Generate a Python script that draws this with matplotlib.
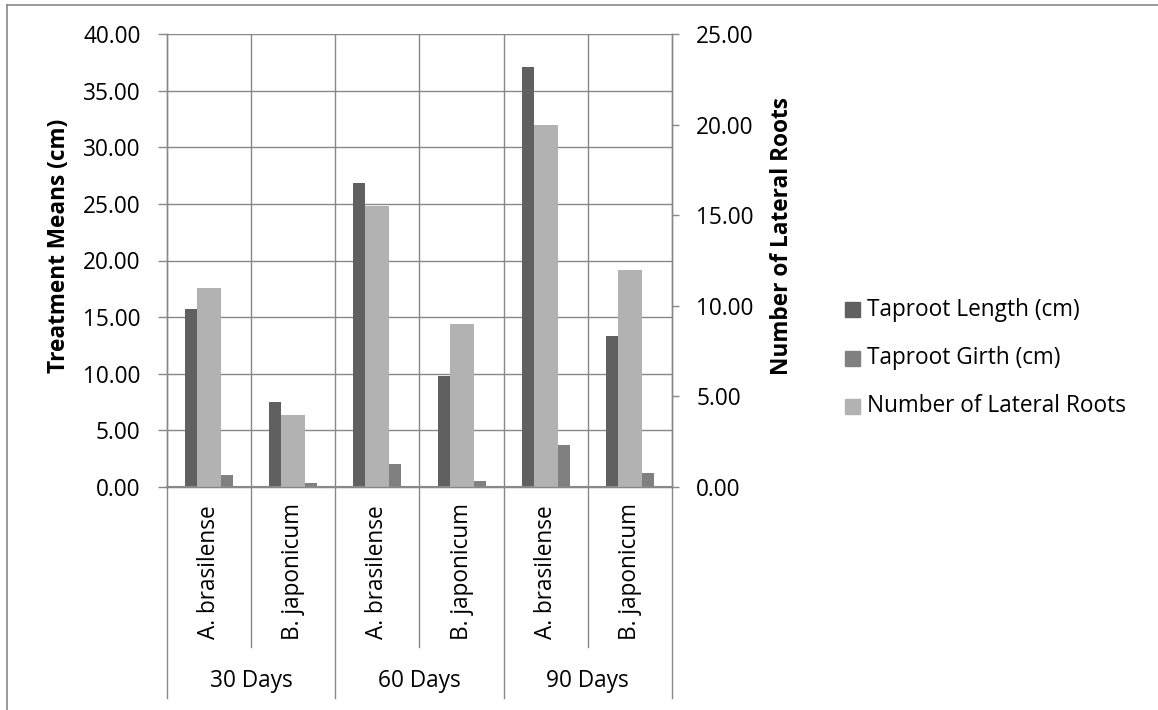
import matplotlib
matplotlib.use("Agg")
import matplotlib.pyplot as plt
from matplotlib.lines import Line2D
from matplotlib.patches import Rectangle

plt.rcParams['font.family'] = ['Open Sans', 'DejaVu Sans']

# ---- data ----
groups = ["30 Days", "60 Days", "90 Days"]
inoculants = ["A. brasilense", "B. japonicum"]
taproot_length = [15.70, 7.50, 26.80, 9.80, 37.10, 13.30]
taproot_girth = [1.10, 0.33, 2.00, 0.55, 3.75, 1.20]
lateral_roots = [11.00, 4.00, 15.50, 9.00, 20.00, 12.00]
left_ticks = [0, 5, 10, 15, 20, 25, 30, 35, 40]
right_ticks = [0, 5, 10, 15, 20, 25]
series_names = ["Taproot Length (cm)", "Taproot Girth (cm)", "Number of Lateral Roots"]

# ---- style ----
C_LEN = "#606060"
C_GIRTH = "#808080"
C_LAT = "#b2b2b2"
C_GRID = "#888888"
FS = 16.3

W, H = 1158, 710
fig = plt.figure(figsize=(W / 100, H / 100), dpi=100)


def fx(px):
    return px / W


def fy(py):
    return 1 - py / H


L, R, T, B = 167, 672, 34, 487
ax = fig.add_axes([fx(L), fy(B), fx(R) - fx(L), fy(T) - fy(B)])
ax2 = ax.twinx()

n = len(taproot_length)
x = list(range(n))
cat_px = (R - L) / n
w_narrow = 12 / cat_px
w_wide = 24 / cat_px
off = 18 / cat_px

ax.set_axisbelow(True)
ax.bar([i - off for i in x], taproot_length, width=w_narrow, color=C_LEN, linewidth=0, zorder=2)
ax.bar([i + off for i in x], taproot_girth, width=w_narrow, color=C_GIRTH, linewidth=0, zorder=2)
ax2.bar(x, lateral_roots, width=w_wide, color=C_LAT, linewidth=0, zorder=2)

ax.set_xlim(-0.5, n - 0.5)
ax.set_ylim(0, 40)
ax2.set_ylim(0, 25)
ax.set_yticks(left_ticks)
ax2.set_yticks(right_ticks)
ax.set_yticklabels([f"{v:.2f}" for v in left_ticks], fontsize=FS)
ax2.set_yticklabels([f"{v:.2f}" for v in right_ticks], fontsize=FS)
ax.set_xticks([])

# gridlines: horizontal at primary ticks, vertical at category borders
for v in left_ticks:
    ax.axhline(v, color=C_GRID, lw=1.0, zorder=0)
for b in range(1, n):
    ax.axvline(b - 0.5, color=C_GRID, lw=1.0, zorder=0)

for a in (ax, ax2):
    for s in a.spines.values():
        s.set_color(C_GRID)
        s.set_linewidth(1.0)
    a.spines['top'].set_visible(False)
ax.spines['bottom'].set_linewidth(1.5)
ax.tick_params(axis='y', length=6.5, width=1.0, color=C_GRID, pad=12.5, labelcolor='black')
ax2.tick_params(axis='y', length=5, width=1.0, color=C_GRID, pad=12.5, labelcolor='black')

# category axis: two rows of labels with separators
xt = ax.get_xaxis_transform()
span = B - T


def ay(py):
    return (B - py) / span


for i in x:
    ax.text(i, ay(572), inoculants[i % 2], rotation=90, ha='center', va='center',
            fontsize=FS, transform=xt, clip_on=False)
for g, name in enumerate(groups):
    ax.text(2 * g + 0.5, ay(681), name, ha='center', va='center', fontsize=FS,
            transform=xt, clip_on=False)
for b in range(n + 1):
    bottom = ay(698) if b % 2 == 0 else ay(647)
    ax.add_line(Line2D([b - 0.5, b - 0.5], [0, bottom], color=C_GRID, lw=1.0,
                       transform=xt, clip_on=False))

# axis titles
fig.text(fx(59), fy(246), "Treatment Means (cm)", rotation=90, ha='center', va='center',
         fontsize=FS, fontweight='bold')
fig.text(fx(782), fy(236), "Number of Lateral Roots", rotation=90, ha='center', va='center',
         fontsize=FS, fontweight='bold')

# legend
for name, col, cy in zip(series_names, [C_LEN, C_GIRTH, C_LAT], [310, 358, 406]):
    fig.patches.append(Rectangle((fx(845), fy(cy + 7.5)), fx(15), 15 / H, color=col,
                                 transform=fig.transFigure, figure=fig))
    fig.text(fx(867), fy(cy), name, ha='left', va='center', fontsize=FS)

# outer chart border
fig.add_artist(Line2D([fx(7), fx(7)], [fy(5), 0], color=C_GRID, lw=1.2, transform=fig.transFigure))
fig.add_artist(Line2D([fx(7), 1], [fy(5), fy(5)], color=C_GRID, lw=1.2, transform=fig.transFigure))

fig.savefig("out.png", dpi=100)
